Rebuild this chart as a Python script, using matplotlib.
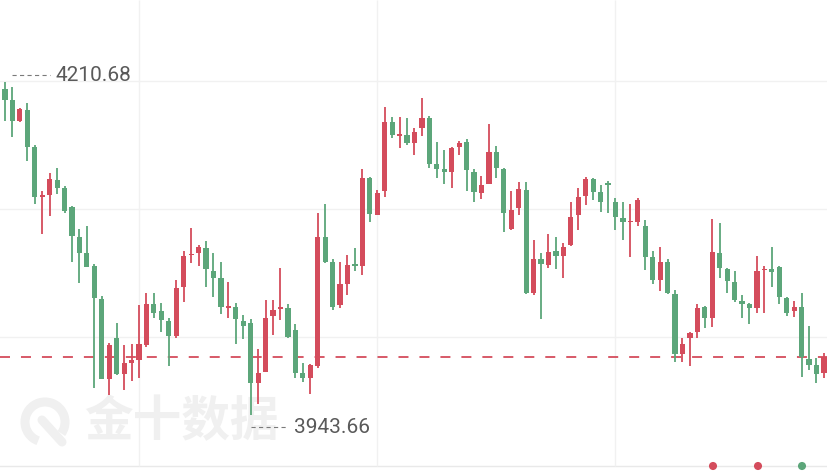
import matplotlib
matplotlib.use('Agg')
import matplotlib.pyplot as plt
from matplotlib.transforms import offset_copy
from matplotlib.patches import Arc

# candle data (one candle per period)
opens = [4205.1, 4196.3, 4179.4, 4188.3, 4158.6, 4118.5, 4120.1, 4132.1, 4125.7, 4110.5,
         4086.4, 4073.6, 4063.2, 4036.7, 3972.5, 4005.4, 3976.6, 3985.4, 3987.8, 3999.8,
         4032.7, 4027.1, 4019.1, 4007.0, 4046.3, 4072.0, 4073.6, 4077.6, 4059.1, 4053.5,
         4029.5, 4030.3, 4019.1, 4017.4, 3969.3, 3978.2, 4023.1, 4028.7, 4029.5, 4011.8,
         3977.4, 3973.3, 3983.0, 4086.4, 4066.4, 4031.9, 4048.7, 4064.8, 4063.2, 4133.7,
         4104.1, 4123.3, 4178.6, 4167.4, 4168.2, 4161.8, 4173.8, 4181.8, 4144.9, 4140.9,
         4138.5, 4158.6, 4162.6, 4138.5, 4121.7, 4128.9, 4154.6, 4140.9, 4092.8, 4109.7,
         4124.1, 4041.5, 4068.8, 4064.0, 4075.2, 4071.2, 4080.0, 4104.1, 4119.3, 4132.9,
         4122.5, 4129.7, 4114.5, 4101.6, 4098.4, 4098.4, 4095.2, 4070.4, 4051.9, 4066.4,
         4040.7, 3992.6, 4005.4, 4010.2, 4030.3, 4021.5, 4073.6, 4060.8, 4050.3, 4035.1,
         4032.7, 4029.5, 4060.0, 4060.8, 4062.4, 4037.5, 4027.1, 4030.3, 3988.6, 3983.8,
         3977.4]
highs = [4210.68, 4206.7, 4189.9, 4193.9, 4160.2, 4123.3, 4137.7, 4141.7, 4127.3, 4111.3,
         4092.8, 4095.2, 4064.8, 4039.1, 4001.4, 4017.4, 3999.8, 4000.6, 4031.9, 4041.5,
         4041.5, 4033.5, 4021.5, 4051.9, 4075.2, 4093.6, 4080.0, 4083.2, 4073.6, 4066.4,
         4050.3, 4033.5, 4023.9, 4020.6, 3996.6, 4035.9, 4035.9, 4061.6, 4032.7, 4016.6,
         3985.4, 3984.6, 4105.7, 4112.9, 4068.8, 4066.4, 4072.0, 4077.6, 4140.9, 4134.5,
         4124.1, 4190.7, 4182.6, 4182.6, 4181.8, 4173.8, 4197.9, 4183.4, 4162.6, 4156.2,
         4158.6, 4163.4, 4165.0, 4140.9, 4135.3, 4177.0, 4159.4, 4141.7, 4123.3, 4130.5,
         4130.5, 4084.0, 4073.6, 4088.8, 4086.4, 4081.6, 4114.5, 4125.7, 4134.5, 4133.7,
         4128.1, 4131.3, 4117.7, 4114.5, 4112.9, 4117.7, 4100.0, 4075.2, 4078.4, 4068.8,
         4043.9, 4005.4, 4010.2, 4032.7, 4031.1, 4100.8, 4097.6, 4061.6, 4059.1, 4039.9,
         4033.5, 4071.2, 4063.2, 4078.4, 4063.2, 4038.3, 4035.1, 4041.5, 4015.0, 3989.4,
         3993.4]
lows = [4179.4, 4166.6, 4178.6, 4147.4, 4112.9, 4088.8, 4103.3, 4120.9, 4105.7, 4066.4,
        4049.5, 4062.4, 3965.3, 3972.5, 3959.7, 3975.8, 3963.7, 3970.9, 3973.3, 3998.2,
        4021.5, 4010.2, 3983.0, 4005.4, 4034.3, 4065.6, 4063.2, 4046.3, 4038.3, 4024.7,
        4021.5, 4000.6, 4004.6, 3943.66, 3952.5, 3978.2, 4007.8, 4019.9, 4005.4, 3973.3,
        3970.1, 3960.5, 3981.4, 4065.6, 4027.9, 4029.5, 4039.9, 4059.1, 4055.9, 4098.4,
        4104.1, 4118.5, 4165.8, 4157.8, 4160.2, 4152.2, 4167.4, 4141.7, 4133.7, 4128.9,
        4125.7, 4152.2, 4123.3, 4114.5, 4116.9, 4128.9, 4133.7, 4090.4, 4092.0, 4104.1,
        4040.7, 4039.9, 4020.6, 4061.6, 4060.8, 4053.5, 4079.2, 4092.0, 4112.1, 4116.1,
        4106.5, 4105.7, 4092.0, 4084.0, 4070.4, 4095.2, 4060.0, 4048.7, 4043.1, 4040.7,
        3986.2, 3986.2, 3983.0, 4005.4, 4013.4, 4014.2, 4053.5, 4041.5, 4034.3, 4021.5,
        4016.6, 4025.5, 4025.5, 4046.3, 4032.7, 4023.1, 4022.3, 3974.1, 3979.8, 3969.3,
        3973.3]
closes = [4196.3, 4179.4, 4189.1, 4158.6, 4118.5, 4120.1, 4132.9, 4125.7, 4107.3, 4087.2,
          4073.6, 4062.4, 4037.5, 3972.5, 3999.8, 3976.6, 3985.4, 3987.8, 4000.6, 4032.7,
          4025.5, 4019.9, 4007.0, 4045.5, 4071.2, 4072.8, 4078.4, 4060.8, 4053.5, 4030.3,
          4031.1, 4020.6, 4015.0, 3969.3, 3977.4, 4021.5, 4027.9, 4030.3, 4006.2, 3977.4,
          3973.3, 3983.8, 4086.4, 4066.4, 4030.3, 4048.7, 4064.0, 4063.2, 4133.7, 4104.9,
          4121.7, 4178.6, 4168.2, 4169.0, 4161.8, 4170.6, 4181.8, 4144.9, 4140.9, 4138.5,
          4157.8, 4161.8, 4140.1, 4122.5, 4128.1, 4154.6, 4141.7, 4105.7, 4108.1, 4124.9,
          4041.5, 4068.8, 4064.8, 4074.4, 4071.2, 4078.4, 4102.5, 4118.5, 4132.9, 4122.5,
          4114.5, 4128.1, 4102.5, 4098.4, 4099.2, 4116.1, 4070.4, 4051.9, 4066.4, 4041.5,
          3992.6, 4000.6, 4009.4, 4029.5, 4021.5, 4074.4, 4061.6, 4051.1, 4035.9, 4032.7,
          4029.5, 4059.1, 4060.8, 4058.3, 4038.3, 4025.5, 4030.3, 3990.2, 3983.8, 3976.6,
          3990.2]

# background grid (price levels and candle indexes)
grid_prices = [4211.5, 4108.9, 4006.2, 3902.8]
grid_candles = [18, 50, 82]
legend_colors = ['#d44c5c', '#d44c5c', '#5ca67a']

RED = '#d44c5c'
GREEN = '#5ca67a'


def draw_candles(ax):
  for i in range(len(opens)):
    o, h, l, c = opens[i], highs[i], lows[i], closes[i]
    color = RED if c >= o else GREEN
    ax.vlines(i, l, h, color=color, linewidth=1.3, zorder=3)
    diff = abs(c - o)
    height = max(diff, 1.4)
    bottom = min(o, c) - (height - diff) / 2
    ax.bar(i, height, bottom=bottom, width=0.7, color=color, linewidth=0, zorder=4)


def mark_price(ax, fig, i, price, dy, x0, x1, xt):
  # dotted leader plus the price value, shifted dy pixels off the candle
  tr = offset_copy(ax.transData, fig=fig, x=0, y=dy, units='dots')
  ax.plot([i + x0, i + x1], [price, price], transform=tr, color='#7a7a7a',
          linewidth=0.8, dashes=(3.0, 2.4), zorder=5)
  ax.text(i + xt, price, '%.2f' % price, transform=tr, ha='left', va='center',
          fontsize=15, family='Roboto', color='#5a5a5a', zorder=5)


def main():
  plt.rcParams['lines.scale_dashes'] = False
  fig = plt.figure(figsize=(8.28, 4.76), dpi=100)
  ax = fig.add_axes([0, 0, 1, 1])
  ax.set_xlim(-0.672, 110.55)
  ax.set_ylim(3894.76, 4276.46)
  ax.axis('off')

  # grid
  for p in grid_prices[:-1]:
    ax.axhline(p, color='#f1f1f1', linewidth=1.0, zorder=1)
  ax.axhline(grid_prices[-1], color='#e9e9e9', linewidth=1.0, zorder=1)
  ax.vlines(grid_candles, grid_prices[-1], 4276.46, color='#f1f1f1',
            linewidth=1.0, zorder=1)

  # watermark
  ax.text(84 / 828, 1 - 422 / 476, '金十数据', transform=ax.transAxes,
          ha='left', va='center', fontsize=35, fontweight='bold',
          family=['Noto Sans CJK SC', 'DejaVu Sans'], color='#f0f0f0', zorder=2)
  ring = Arc((0.45, 0.54), 0.40, 0.40, theta1=-35, theta2=250,
             transform=fig.dpi_scale_trans, color='#f0f0f0', linewidth=6.5, zorder=2)
  fig.add_artist(ring)
  fig.add_artist(plt.Line2D([0.42, 0.62], [0.56, 0.34], transform=fig.dpi_scale_trans,
                            color='#f0f0f0', linewidth=6.5, solid_capstyle='round'))

  draw_candles(ax)

  # latest price line
  ax.axhline(closes[-1], color=RED, linewidth=1.3, dashes=(7.2, 7.9), zorder=2)

  # highest and lowest marks
  hi = highs.index(max(highs))
  lo = lows.index(min(lows))
  mark_price(ax, fig, hi, highs[hi], 7, 0.94, 6.0, 6.75)
  mark_price(ax, fig, lo, lows[lo], -12, 0.0, 4.95, 5.8)

  # indicator dots on the bottom line
  ax.scatter([713 / 828, 758 / 828, 802 / 828], [10 / 476] * 3, s=34,
             c=legend_colors, transform=ax.transAxes, zorder=6, linewidths=0)

  fig.savefig('out.png', dpi=100)


if __name__ == '__main__':
  main()
